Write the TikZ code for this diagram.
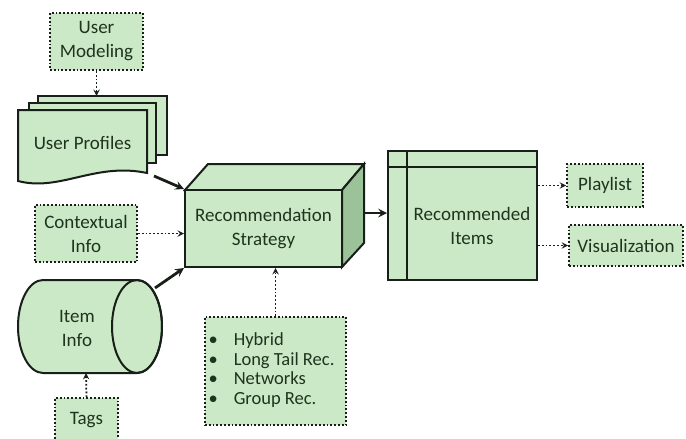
\documentclass[tikz,border=0pt]{standalone}
\usepackage{fontspec}
\setmainfont{Carlito}
\usepackage{xcolor}
\usetikzlibrary{calc,arrows}
\definecolor{boxgreen}{RGB}{203,233,198}
\definecolor{sidegreen}{RGB}{156,194,154}
\definecolor{txtgreen}{RGB}{30,52,30}
\definecolor{edge}{RGB}{24,30,24}
\tikzset{
  solidbox/.style={draw=edge,fill=boxgreen,line width=2pt,text=txtgreen,align=center,inner sep=0pt},
  dotbox/.style={draw=edge,fill=boxgreen,line width=1.8pt,dotted,text=txtgreen,align=center,inner sep=0pt},
  bigarrow/.style={draw=edge,line width=2.8pt,-stealth},
  dotarrow/.style={draw=edge,line width=1.8pt,dotted,->,>=stealth},
  bodytext/.style={text=txtgreen,align=center,font=\fontsize{19}{24}\selectfont}
}

\begin{document}
\begin{tikzpicture}[x=1pt,y=-1pt]
    \useasboundingbox (0,0) rectangle (686,439);
    % user modeling and profiles
    \node[dotbox,font=\fontsize{19}{24}\selectfont,minimum width=93,minimum height=57] (model) at (96.5,41.5) {User\\Modeling};
    \draw[solidbox] (38,96) rectangle (167,155);
    \draw[solidbox] (29,103) rectangle (156,163);
    \draw[solidbox] (18,110) -- (147,110) -- (147,173) .. controls (95,162) and (60,192) .. (18,181) -- cycle;
    \node[bodytext] (prof) at (82.5,143) {User Profiles};
    \coordinate (profout) at (154,176);
    \draw[dotarrow] (model.south) -- (model.south |- 0,96);
    % strategy box
    \draw[solidbox] (185,190) -- (208,164) -- (364,164) -- (342,190) -- cycle;
    \draw[solidbox,fill=sidegreen] (342,190) -- (364,164) -- (364,243) -- (342,267) -- cycle;
    \node[solidbox,font=\fontsize{19}{24}\selectfont,minimum width=157,minimum height=77] (strat) at (263.5,228.5) {Recommendation\\Strategy};
    \coordinate (stratout) at (365,213);
    % context
    \node[dotbox,font=\fontsize{19}{24}\selectfont,minimum width=102,minimum height=57] (ctx) at (86,233.5) {Contextual\\Info};
    % item info cylinder
    \draw[solidbox] (43,280) -- (137,280) arc (-90:90:25 and 46.5) -- (43,373) arc (90:270:25 and 46.5) -- cycle;
    \draw[draw=edge,line width=2pt] (137,326.5) ellipse (25 and 46.5);
    \node[bodytext] (item) at (77,328) {Item\\Info};
    \coordinate (itemout) at (155,288);
    \coordinate (itembot) at (86,373);
    \node[dotbox,font=\fontsize{19}{24}\selectfont,minimum width=63,minimum height=44] (tags) at (86.5,420) {Tags};
    % methods list
    \node[dotbox,font=\fontsize{18.5}{19.5}\selectfont,minimum width=141,minimum height=108] (methods) at (275.5,371)
      {\begin{tabular}{@{}l@{\hspace{16pt}}l@{}}\textbullet & Hybrid\\ \textbullet & Long Tail Rec.\\ \textbullet & Networks\\ \textbullet & Group Rec.\end{tabular}\hspace{8pt}};
    % recommended items
    \node[solidbox,minimum width=149,minimum height=129] (rec) at (462.5,215.5) {};
    \draw[draw=edge,line width=2pt] (407,151) -- (407,280);
    \draw[draw=edge,line width=2pt] (388,167) -- (537,167);
    \node[bodytext] (rectext) at (472,226) {Recommended\\Items};
    \node[dotbox,font=\fontsize{19}{24}\selectfont,minimum width=76,minimum height=43] (play) at (605,185.5) {Playlist};
    \node[dotbox,font=\fontsize{19}{24}\selectfont,minimum width=114,minimum height=41] (vis) at (626,245.5) {Visualization};
    % connectors
    \draw[bigarrow] (profout) -- (strat.north west);
    \draw[bigarrow] (itemout) -- (strat.south west);
    \draw[dotarrow] (ctx.east) -- (ctx.east -| strat.west);
    \draw[dotarrow] (tags.north) -- (itembot);
    \draw[dotarrow] (methods.north) -- (methods.north |- strat.south);
    \draw[bigarrow] (stratout) -- (stratout -| rec.west);
    \draw[dotarrow] (rec.east |- play.west) -- (play.west);
    \draw[dotarrow] (rec.east |- vis.west) -- (vis.west);
\end{tikzpicture}
\end{document}
